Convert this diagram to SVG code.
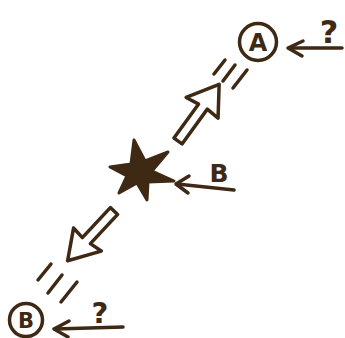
<svg xmlns="http://www.w3.org/2000/svg" width="345" height="338" viewBox="0 0 345 338">
<style>
.ink{stroke:#3e2914;fill:none;stroke-linecap:round;stroke-linejoin:round}
.w{stroke-width:3.5}
.sp{stroke-width:3.5}
.lbl{font-family:"DejaVu Sans",sans-serif;font-weight:bold;fill:#3e2914;text-anchor:middle}
</style>
<rect width="345" height="338" fill="#ffffff"/>
<g id="nodeA">
<circle class="ink w" cx="258" cy="42" r="18.5"/>
<text class="lbl" x="258" y="51" font-size="24">A</text>
</g>
<g id="nodeB">
<circle class="ink w" cx="26" cy="320" r="16.5"/>
<text class="lbl" x="26" y="328" font-size="21">B</text>
</g>
<g id="star">
<polygon points="134,140 145,161 168,152 152,171 174,181 148,182 147,200 137,183 119,193 127,176 110,167 131,164" fill="#3e2914" stroke="#3e2914" stroke-width="3" stroke-linejoin="round"/>
</g>
<g id="labels">
<text class="lbl" x="329" y="43" font-size="32" font-family="Liberation Sans">?</text>
<text class="lbl" x="100" y="323" font-size="29">?</text>
<text class="lbl" x="219" y="182" font-size="25">B</text>
</g>
<g id="connectors">
<g id="arrowA">
<line class="ink w" x1="289" y1="48" x2="342" y2="48"/>
<polyline class="ink w" points="303,41 288,48 302,56"/>
</g>
<g id="arrowMid">
<line class="ink w" x1="177" y1="184" x2="234" y2="190"/>
<polyline class="ink w" points="189,176 176,184 188,193"/>
</g>
<g id="arrowB">
<line class="ink w" x1="55" y1="329" x2="123" y2="327"/>
<polyline class="ink w" points="69,321 54,329 68,337"/>
</g>
<g id="bigUp" transform="translate(178,141) rotate(-54)">
<polygon class="ink w" points="0,-5 42,-5 40,-19 70,0 42,19 43,5 0,5"/>
</g>
<g id="bigDown" transform="translate(114,211) rotate(133)">
<polygon class="ink w" points="0,-5 40,-5 38,-18 68,0 40,18 41,5 0,5"/>
</g>
<g id="speedA">
<line class="ink sp" x1="225" y1="60" x2="214" y2="74"/>
<line class="ink sp" x1="235" y1="65" x2="223" y2="81"/>
<line class="ink sp" x1="247" y1="70" x2="233" y2="88"/>
</g>
<g id="speedB">
<line class="ink sp" x1="51" y1="264" x2="38" y2="280"/>
<line class="ink sp" x1="62" y1="275" x2="48" y2="293"/>
<line class="ink sp" x1="77" y1="282" x2="61" y2="302"/>
</g>
</g>
</svg>
